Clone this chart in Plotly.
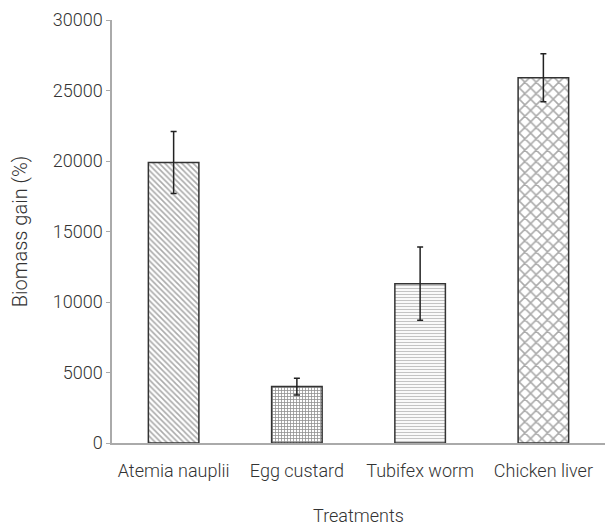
import plotly.graph_objects as go

treatments = ['Atemia nauplii', 'Egg custard', 'Tubifex worm', 'Chicken liver']
biomass_gain = [19900, 4000, 11300, 25900]
error_sd = [2200, 600, 2600, 1700]
patterns = ['\\', '+', '-', 'x']
pattern_colors = ['#555555', '#222222', '#888888', '#555555']
pattern_sizes = [4, 3, 3, 8]
pattern_solidity = [0.4, 0.45, 0.4, 0.35]

FONT = 'Roboto, sans-serif'

fig = go.Figure()
fig.add_trace(go.Bar(
    x=treatments,
    y=biomass_gain,
    width=0.41,
    marker=dict(
        color='white',
        line=dict(color='#333333', width=1.5),
        pattern=dict(shape=patterns, fgcolor=pattern_colors, bgcolor='white',
                     size=pattern_sizes, solidity=pattern_solidity, fillmode='overlay'),
    ),
    error_y=dict(type='data', array=error_sd, color='#222222', thickness=1.5, width=3),
))

fig.update_layout(
    width=605, height=526,
    margin=dict(l=112, r=0, t=20, b=83),
    plot_bgcolor='white', paper_bgcolor='white',
    font=dict(family=FONT, size=18, color='#333333', weight=300),
    showlegend=False,
)
fig.update_xaxes(
    showline=True, linecolor='#aaaaaa', linewidth=1.5,
    ticks='', showgrid=False, automargin=False, ticklabelstandoff=11,
    title=dict(text='Treatments', standoff=39, font=dict(size=18)),
)
fig.update_yaxes(
    range=[0, 30000], dtick=5000, tickformat='d',
    showline=True, linecolor='#aaaaaa', linewidth=1.5,
    ticks='outside', ticklen=4, tickcolor='#aaaaaa',
    showgrid=False, zeroline=False, automargin=False,
    title=dict(text='Biomass gain (%)', standoff=20, font=dict(size=20)),
)

fig.write_html('out.html', config={'displayModeBar': False},
               post_script="document.body.style.margin='0';")
